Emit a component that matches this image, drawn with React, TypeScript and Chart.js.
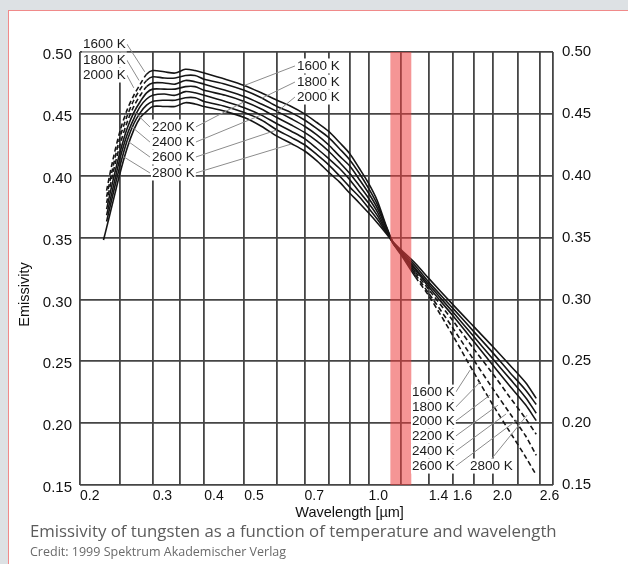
import { useEffect, useRef } from "react";
import { Chart, registerables } from "chart.js";

Chart.register(...registerables);

// ---------- data ----------
const wavelengths = [
  0.228, 0.232, 0.24, 0.25, 0.26, 0.27, 0.28, 0.29, 0.3, 0.32, 0.34, 0.36, 0.38, 0.4,
  0.45, 0.5, 0.55, 0.6, 0.65, 0.7, 0.75, 0.8, 0.85, 0.9, 0.95, 1.0, 1.05, 1.1, 1.15,
  1.2, 1.3, 1.4, 1.6, 1.8, 2.0, 2.2, 2.4, 2.55,
];

const temperatureNames = ["1600 K", "1800 K", "2000 K", "2200 K", "2400 K", "2600 K", "2800 K"];

const emissivity1600 = [
  null, 0.388, 0.412, 0.436, 0.453, 0.465, 0.474, 0.482, 0.485, 0.484, 0.483, 0.486, 0.485, 0.483,
  0.478, 0.473, 0.467, 0.461, 0.456, 0.45, 0.443, 0.436, 0.427, 0.418, 0.406, 0.394, 0.38, 0.361, 0.345,
  0.336, 0.318, 0.303, 0.271, 0.241, 0.215, 0.193, 0.173, 0.158,
];
const emissivity1800 = [
  null, 0.383, 0.406, 0.431, 0.448, 0.461, 0.47, 0.477, 0.48, 0.479, 0.479, 0.481, 0.481, 0.478,
  0.474, 0.469, 0.463, 0.456, 0.451, 0.445, 0.438, 0.431, 0.422, 0.413, 0.402, 0.39, 0.377, 0.36, 0.345,
  0.337, 0.32, 0.305, 0.277, 0.251, 0.228, 0.208, 0.19, 0.174,
];
const emissivity2000 = [
  null, 0.378, 0.401, 0.425, 0.443, 0.456, 0.465, 0.472, 0.475, 0.475, 0.474, 0.477, 0.476, 0.474,
  0.469, 0.464, 0.458, 0.452, 0.446, 0.44, 0.433, 0.425, 0.416, 0.408, 0.397, 0.386, 0.374, 0.359, 0.345,
  0.338, 0.322, 0.308, 0.283, 0.26, 0.24, 0.221, 0.204, 0.191,
];
const emissivity2200 = [
  null, 0.373, 0.395, 0.419, 0.438, 0.451, 0.46, 0.467, 0.47, 0.47, 0.47, 0.472, 0.472, 0.469,
  0.465, 0.46, 0.454, 0.447, 0.441, 0.435, 0.428, 0.42, 0.411, 0.402, 0.392, 0.382, 0.371, 0.357, 0.345,
  0.338, 0.324, 0.31, 0.287, 0.266, 0.247, 0.23, 0.215, 0.202,
];
const emissivity2400 = [
  null, 0.368, 0.389, 0.414, 0.433, 0.446, 0.456, 0.462, 0.465, 0.466, 0.465, 0.468, 0.467, 0.465,
  0.46, 0.455, 0.449, 0.442, 0.436, 0.43, 0.422, 0.414, 0.406, 0.397, 0.387, 0.378, 0.368, 0.356, 0.345,
  0.338, 0.325, 0.312, 0.29, 0.27, 0.252, 0.236, 0.221, 0.208,
];
const emissivity2600 = [
  null, 0.363, 0.384, 0.408, 0.428, 0.442, 0.451, 0.457, 0.46, 0.461, 0.461, 0.463, 0.463, 0.46,
  0.456, 0.451, 0.445, 0.437, 0.431, 0.425, 0.417, 0.409, 0.4, 0.391, 0.383, 0.374, 0.365, 0.355, 0.346,
  0.339, 0.327, 0.314, 0.293, 0.274, 0.257, 0.241, 0.227, 0.215,
];
const emissivity2800 = [
  0.348, 0.358, 0.378, 0.402, 0.422, 0.437, 0.447, 0.452, 0.456, 0.456, 0.456, 0.459, 0.458, 0.456,
  0.452, 0.447, 0.44, 0.432, 0.426, 0.42, 0.412, 0.403, 0.395, 0.386, 0.378, 0.37, 0.362, 0.354, 0.346,
  0.34, 0.329, 0.317, 0.296, 0.278, 0.262, 0.247, 0.233, 0.22,
];

// curves drawn dashed (extrapolated) outside the measured range
const extrapolatedSeries = ["1600 K", "1800 K", "2000 K"];
const measuredFrom = 0.29;
const measuredTo = 1.3;

// axes
const yTickValues = [0.15, 0.2, 0.25, 0.3, 0.35, 0.4, 0.45, 0.5];
const xGridValues = [0.2, 0.25, 0.3, 0.35, 0.4, 0.5, 0.6, 0.7, 0.8, 0.9, 1.0, 1.2, 1.4, 1.6, 1.8, 2.0, 2.3, 2.6, 2.8];
const xGridLabels = ["0.2", "", "0.3", "", "0.4", "0.5", "", "0.7", "", "", "1.0", "", "1.4", "1.6", "", "2.0", "", "2.6", ""];

// highlighted wavelength band
const highlightBand = [1.13, 1.27];

// curve labels (text left edge at wavelength / emissivity)
const labelText = [
  "1600 K", "1800 K", "2000 K",
  "2200 K", "2400 K", "2600 K", "2800 K",
  "1600 K", "1800 K", "2000 K",
  "1600 K", "1800 K", "2000 K", "2200 K", "2400 K", "2600 K", "2800 K",
];
const labelLambda = [
  0.2034, 0.2034, 0.2034,
  0.2988, 0.2988, 0.2988, 0.2988,
  0.671, 0.671, 0.671,
  1.275, 1.275, 1.275, 1.275, 1.275, 1.275, 1.762,
];
const labelEps = [
  0.5065, 0.4935, 0.4814,
  0.4394, 0.4272, 0.4151, 0.4022,
  0.4887, 0.4757, 0.4636,
  0.2251, 0.213, 0.2017, 0.1896, 0.1774, 0.1653, 0.1653,
];

// leader lines: which label, from which side, to which point
const leaderLabel = [0, 1, 2, 3, 4, 5, 6, 3, 4, 5, 6, 7, 8, 9, 10, 11, 12, 13, 14, 15, 16];
const leaderSide = ["r", "r", "r", "l", "l", "l", "l", "r", "r", "r", "r", "l", "l", "l", "r", "r", "r", "r", "r", "r", "t"];
const leaderLambda = [0.287, 0.278, 0.27, 0.272, 0.266, 0.261, 0.256, 0.5, 0.55, 0.6, 0.65, 0.5, 0.55, 0.6, 1.763, 1.864, 1.971, 2.061, 2.155, 2.291, 2.423];
const leaderEps = [0.484, 0.477, 0.471, 0.451, 0.44, 0.428, 0.415, 0.4598, 0.4491, 0.437, 0.4256, 0.4729, 0.4625, 0.4515, 0.2429, 0.2332, 0.2227, 0.2146, 0.2074, 0.2025, 0.2065];

const xTitle = "Wavelength [µm]";
const yTitle = "Emissivity";
const caption = "Emissivity of tungsten as a function of temperature and wavelength";
const credit = "Credit: 1999 Spektrum Akademischer Verlag";

const FONT = '"Liberation Sans", Arial, Helvetica, sans-serif';

const overlayPlugin = {
  id: "overlay",
  afterDatasetsDraw(chart: any) {
    const { ctx, chartArea: a, scales } = chart;
    const px = (v: number) => scales.x.getPixelForValue(v);
    const py = (v: number) => scales.y.getPixelForValue(v);
    ctx.save();
    // band
    const b0 = px(highlightBand[0]);
    const b1 = px(highlightBand[1]);
    ctx.fillStyle = "rgba(236, 62, 62, 0.55)";
    ctx.fillRect(b0, a.top, b1 - b0, a.bottom - a.top);

    // labels
    ctx.font = `13.5px ${FONT}`;
    ctx.textBaseline = "middle";
    ctx.textAlign = "left";
    const boxes = labelText.map((t, i) => ({
      x: px(labelLambda[i]),
      y: py(labelEps[i]),
      w: ctx.measureText(t).width,
    }));
    ctx.strokeStyle = "#8c8c8c";
    ctx.lineWidth = 1;
    leaderLabel.forEach((li, k) => {
      const b = boxes[li];
      const side = leaderSide[k];
      const sx = side === "r" ? b.x + b.w + 1 : side === "l" ? b.x - 2 : b.x + b.w / 2;
      const sy = side === "t" ? b.y - 7 : b.y;
      ctx.beginPath();
      ctx.moveTo(sx, sy);
      ctx.lineTo(px(leaderLambda[k]), py(leaderEps[k]));
      ctx.stroke();
    });
    ctx.fillStyle = "#ffffff";
    boxes.forEach((b) => ctx.fillRect(b.x - 1, b.y - 7.5, b.w + 2, 15));
    ctx.fillStyle = "#1a1a1a";
    labelText.forEach((t, i) => ctx.fillText(t, boxes[i].x, boxes[i].y + 0.5));

    // axis titles
    ctx.font = `14.5px ${FONT}`;
    ctx.fillStyle = "#111";
    ctx.textAlign = "center";
    ctx.fillText(xTitle, a.left + (a.right - a.left) * 0.57, a.bottom + 28);
    ctx.translate(24.5, a.top + (a.bottom - a.top) * 0.56);
    ctx.rotate(-Math.PI / 2);
    ctx.fillText(yTitle, 0, 0);
    ctx.restore();
  },
};

export default function App() {
  const canvasRef = useRef<HTMLCanvasElement | null>(null);

  useEffect(() => {
    const canvas = canvasRef.current;
    if (!canvas) return;
    const series = [
      emissivity1600, emissivity1800, emissivity2000, emissivity2200,
      emissivity2400, emissivity2600, emissivity2800,
    ];
    const datasets = temperatureNames.map((name, i) => ({
      label: name,
      data: wavelengths.map((w, j) => ({ x: w, y: series[i][j] })),
      borderColor: "#151515",
      borderWidth: 1.6,
      pointRadius: 0,
      fill: false,
      tension: 0.3,
      segment: extrapolatedSeries.includes(name)
        ? {
            borderDash: (c: any) =>
              c.p1.parsed.x <= measuredFrom || c.p0.parsed.x >= measuredTo ? [5, 3] : undefined,
          }
        : undefined,
    }));

    const yTicks = {
      padding: 8,
      color: "#111",
      font: { family: FONT, size: 15 },
      callback: (v: any) => Number(v).toFixed(2),
    };

    const chart = new Chart(canvas, {
      type: "line",
      data: { datasets: datasets as any },
      options: {
        responsive: false,
        animation: false,
        events: [],
        layout: { padding: { top: 52, bottom: 49, left: 0, right: 0 } },
        plugins: { legend: { display: false }, tooltip: { enabled: false } },
        scales: {
          x: {
            type: "logarithmic",
            min: 0.2,
            max: 2.8,
            afterBuildTicks: (s: any) => {
              s.ticks = xGridValues.map((v) => ({ value: v }));
            },
            afterFit: (s: any) => {
              s.height = 30;
            },
            grid: { color: "#454545", lineWidth: 1.8, drawTicks: false },
            border: { display: false },
            ticks: {
              autoSkip: false,
              maxRotation: 0,
              align: "start",
              padding: 3,
              color: "#111",
              font: { family: FONT, size: 14 },
              callback: (_v: any, i: number) => xGridLabels[i] ?? "",
            },
          },
          y: {
            type: "linear",
            min: 0.15,
            max: 0.5,
            afterBuildTicks: (s: any) => {
              s.ticks = yTickValues.map((v) => ({ value: v }));
            },
            afterFit: (s: any) => {
              s.width = 80;
            },
            grid: { color: "#454545", lineWidth: 1.8, drawTicks: false },
            border: { display: false },
            ticks: { ...yTicks, labelOffset: 3 },
          },
          yRight: {
            type: "linear",
            position: "right",
            min: 0.15,
            max: 0.5,
            afterBuildTicks: (s: any) => {
              s.ticks = yTickValues.map((v) => ({ value: v }));
            },
            afterFit: (s: any) => {
              s.width = 75;
            },
            grid: { display: false, drawTicks: false },
            border: { display: false },
            ticks: { ...yTicks, padding: 9 },
          },
        } as any,
      },
      plugins: [overlayPlugin],
    });
    return () => chart.destroy();
  }, []);

  return (
    <div
      style={{
        position: "absolute",
        left: 0,
        top: 0,
        width: 628,
        height: 564,
        background: "#dde1e4",
        overflow: "hidden",
      }}
    >
      <div
        style={{
          position: "absolute",
          left: 8,
          top: 10,
          right: 0,
          bottom: 0,
          background: "#ffffff",
          borderTop: "1.5px solid #f08a8a",
          borderLeft: "1.5px solid #f08a8a",
        }}
      />
      <canvas
        ref={canvasRef}
        width={628}
        height={564}
        style={{ position: "absolute", left: 0, top: 0, width: 628, height: 564 }}
      />
      <div
        style={{
          position: "absolute",
          left: 30,
          top: 521,
          fontFamily: '"Open Sans", "Noto Sans", sans-serif',
          fontSize: 16.8,
          lineHeight: "20px",
          color: "#5c5c5c",
          whiteSpace: "nowrap",
        }}
      >
        {caption}
      </div>
      <div
        style={{
          position: "absolute",
          left: 30,
          top: 544,
          fontFamily: '"Open Sans", "Noto Sans", sans-serif',
          fontSize: 12.5,
          lineHeight: "15px",
          color: "#6a6a6a",
          whiteSpace: "nowrap",
        }}
      >
        {credit}
      </div>
    </div>
  );
}
